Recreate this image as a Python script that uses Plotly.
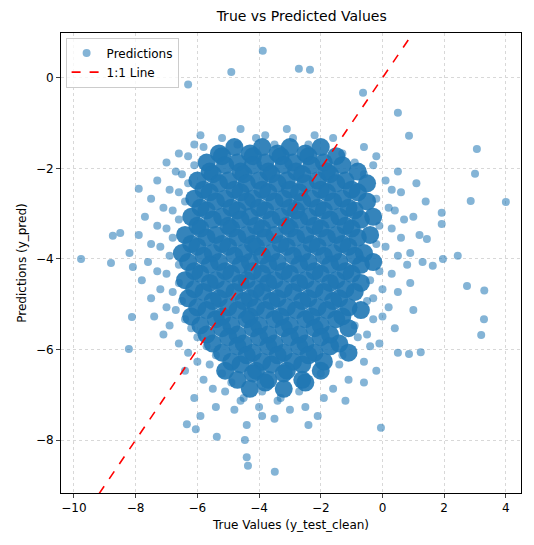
import plotly.graph_objects as go

out_x = [-9.77,-8.8,-8.74,-8.5,-8.09,-7.9,-8.12,-8.22,-6.3,-3.88,-2.71,-2.35,-4.9,3.0,3.06,4.0,2.86,3.29,3.3,3.2,1.96,2.74,2.44,-4.36,-3.49,-4.4,-5.37,-4.46,-6.34,-6.05,-0.05,0.86,0.5,-0.63,1.24,0.86,1.92,1.92,1.44,1.63]
out_y = [-4.0,-4.09,-3.49,-3.43,-4.18,-2.45,-5.28,-5.99,-0.15,0.6,0.2,0.18,0.13,-2.12,-1.57,-2.74,-2.72,-5.33,-4.7,-5.68,-4.0,-4.6,-3.93,-8.57,-8.7,-8.38,-7.93,-8.0,-7.65,-7.76,-7.73,-1.28,-0.77,-0.33,-6.06,-6.1,-2.98,-3.23,-3.56,-4.15]

row_y = [-1.2,-1.4,-1.6,-1.8,-2.0,-2.2,-2.4,-2.6,-2.8,-3.0,-3.2,-3.4,-3.6,-3.8,-4.0,-4.2,-4.4,-4.6,-4.8,-5.0,-5.2,-5.4,-5.6,-5.8,-6.0,-6.2,-6.4,-6.6,-6.8,-7.0,-7.2,-7.4,-7.6]
row_x = [
[-5.9,-4.6,-3.8,-3.1,-2.2],
[-6.1,-5.2,-4.7,-4.1,-3.5,-2.9,-2.4,-1.6],
[-6.6,-5.8,-5.3,-4.8,-4.3,-3.9,-3.4,-3.0,-2.5,-2.0,-1.3,-0.6],
[-7.0,-6.3,-5.7,-5.2,-4.7,-4.2,-3.8,-3.3,-2.9,-2.4,-1.9,-1.5,-0.9,-0.2],
[-6.7,-6.1,-5.6,-5.1,-4.6,-4.2,-3.7,-3.2,-2.8,-2.3,-1.8,-1.3,-0.8,-0.3,0.5],
[-7.3,-6.5,-6.0,-5.5,-5.0,-4.5,-4.0,-3.6,-3.1,-2.6,-2.1,-1.7,-1.2,-0.6,0.1],
[-6.9,-6.3,-5.8,-5.3,-4.8,-4.4,-3.9,-3.4,-3.0,-2.5,-2.0,-1.5,-1.0,-0.5,0.3,1.1],
[-7.5,-6.6,-6.1,-5.6,-5.1,-4.6,-4.2,-3.7,-3.2,-2.7,-2.3,-1.8,-1.3,-0.8,-0.2,0.6],
[-7.1,-6.4,-5.9,-5.4,-4.9,-4.4,-4.0,-3.5,-3.0,-2.6,-2.1,-1.6,-1.1,-0.5,0.2,1.4],
[-7.7,-6.8,-6.2,-5.7,-5.2,-4.7,-4.3,-3.8,-3.3,-2.8,-2.4,-1.9,-1.4,-0.9,-0.3,0.4,1.0],
[-7.3,-6.6,-6.0,-5.5,-5.0,-4.6,-4.1,-3.6,-3.1,-2.7,-2.2,-1.7,-1.2,-0.7,-0.1,0.7],
[-7.9,-7.0,-6.4,-5.9,-5.4,-4.9,-4.4,-3.9,-3.5,-3.0,-2.5,-2.0,-1.5,-1.0,-0.4,0.3,1.2],
[-7.5,-6.8,-6.2,-5.7,-5.2,-4.7,-4.2,-3.8,-3.3,-2.8,-2.3,-1.8,-1.3,-0.8,-0.2,0.6],
[-8.2,-7.2,-6.5,-6.0,-5.5,-5.0,-4.5,-4.1,-3.6,-3.1,-2.6,-2.1,-1.6,-1.1,-0.6,0.1,0.9],
[-7.6,-6.9,-6.3,-5.8,-5.3,-4.8,-4.3,-3.9,-3.4,-2.9,-2.4,-1.9,-1.4,-0.9,-0.3,0.5,1.3],
[-7.3,-6.6,-6.1,-5.6,-5.1,-4.6,-4.2,-3.7,-3.2,-2.7,-2.2,-1.7,-1.2,-0.7,-0.1,0.8],
[-7.8,-7.0,-6.4,-5.9,-5.4,-4.9,-4.4,-3.9,-3.5,-3.0,-2.5,-2.0,-1.5,-1.0,-0.4,0.3],
[-7.2,-6.6,-6.1,-5.6,-5.1,-4.6,-4.1,-3.7,-3.2,-2.7,-2.2,-1.7,-1.2,-0.7,0.0,0.9],
[-7.5,-6.8,-6.3,-5.8,-5.3,-4.8,-4.3,-3.9,-3.4,-2.9,-2.4,-1.9,-1.4,-0.9,-0.3,0.5],
[-7.0,-6.5,-6.0,-5.5,-5.0,-4.5,-4.1,-3.6,-3.1,-2.6,-2.1,-1.6,-1.1,-0.5,0.2],
[-7.4,-6.7,-6.2,-5.7,-5.2,-4.7,-4.3,-3.8,-3.3,-2.8,-2.3,-1.8,-1.3,-0.7,0.0,1.0],
[-6.9,-6.4,-5.9,-5.4,-4.9,-4.4,-4.0,-3.5,-3.0,-2.5,-2.0,-1.5,-0.9,-0.3],
[-7.1,-6.2,-5.7,-5.2,-4.7,-4.2,-3.7,-3.2,-2.7,-2.2,-1.7,-1.1,-0.5,0.4],
[-6.6,-6.0,-5.5,-5.0,-4.5,-4.0,-3.5,-3.0,-2.5,-2.0,-1.4,-0.8,-0.1],
[-6.3,-5.7,-5.2,-4.7,-4.2,-3.7,-3.2,-2.7,-2.2,-1.7,-1.1,-0.4,0.5],
[-6.0,-5.4,-4.9,-4.4,-3.9,-3.4,-2.9,-2.4,-1.9,-1.3,-0.6],
[-6.4,-5.6,-5.1,-4.6,-4.1,-3.6,-3.1,-2.6,-2.0,-1.4,-0.2],
[-5.8,-5.2,-4.7,-4.2,-3.7,-3.2,-2.6,-2.0,-1.1],
[-5.5,-4.9,-4.3,-3.8,-3.2,-2.5,-1.6,-0.6],
[-6.1,-5.1,-4.5,-3.9,-3.3,-2.7,-1.9],
[-5.4,-4.6,-4.0,-3.4,-2.5,-1.2],
[-5.9,-4.8,-3.9,-3.0,-2.1],
[-4.4,-3.5,-2.4],
]

ex, ey = list(out_x), list(out_y)
cx, cy = [], []
for yv, row in zip(row_y, row_x):
    n = len(row)
    for i, xv in enumerate(row):
        yy = yv + (0.07 if i % 2 else -0.07)
        if 1 < i < n - 2 and -7.0 < yv < -1.5:
            cx.append(xv); cy.append(yy)
        else:
            ex.append(xv); ey.append(yy)

line_x = [-10.5, 4.5]

fig = go.Figure()
fig.add_trace(go.Scatter(x=cx, y=cy, mode="markers", showlegend=False,
    marker=dict(size=18, color="rgba(31,119,180,0.9)", line=dict(width=0))))
fig.add_trace(go.Scatter(x=ex, y=ey, mode="markers", name="Predictions",
    marker=dict(size=8, color="rgba(31,119,180,0.55)", line=dict(width=0))))
fig.add_trace(go.Scatter(x=line_x, y=line_x, mode="lines", name="1:1 Line",
    line=dict(color="red", dash="dash", width=1.6)))
ax = dict(showline=True, linecolor="black", mirror=True, ticks="outside", ticklen=4,
    gridcolor="#d8d8d8", griddash="dot", zeroline=False, tickfont=dict(size=12, color="black"))
fig.update_layout(
    width=534, height=545, margin=dict(l=53, r=21, t=25, b=60),
    plot_bgcolor="white", paper_bgcolor="white",
    font=dict(family="DejaVu Sans", size=12, color="black"),
    title=dict(text="True vs Predicted Values", x=0.55, xanchor="center", y=0.995, yanchor="top", font=dict(size=14)),
    xaxis=dict(ax, range=[-10.42, 4.49], dtick=2, title=dict(text="True Values (y_test_clean)", standoff=6, font=dict(size=12))),
    yaxis=dict(ax, range=[-9.17, 0.99], dtick=2, title=dict(text="Predictions (y_pred)", standoff=6, font=dict(size=12))),
    legend=dict(x=0.01, y=0.99, xanchor="left", yanchor="top", bordercolor="#cccccc", borderwidth=1, bgcolor="rgba(255,255,255,0.8)"),
)
fig.write_html("out.html")
